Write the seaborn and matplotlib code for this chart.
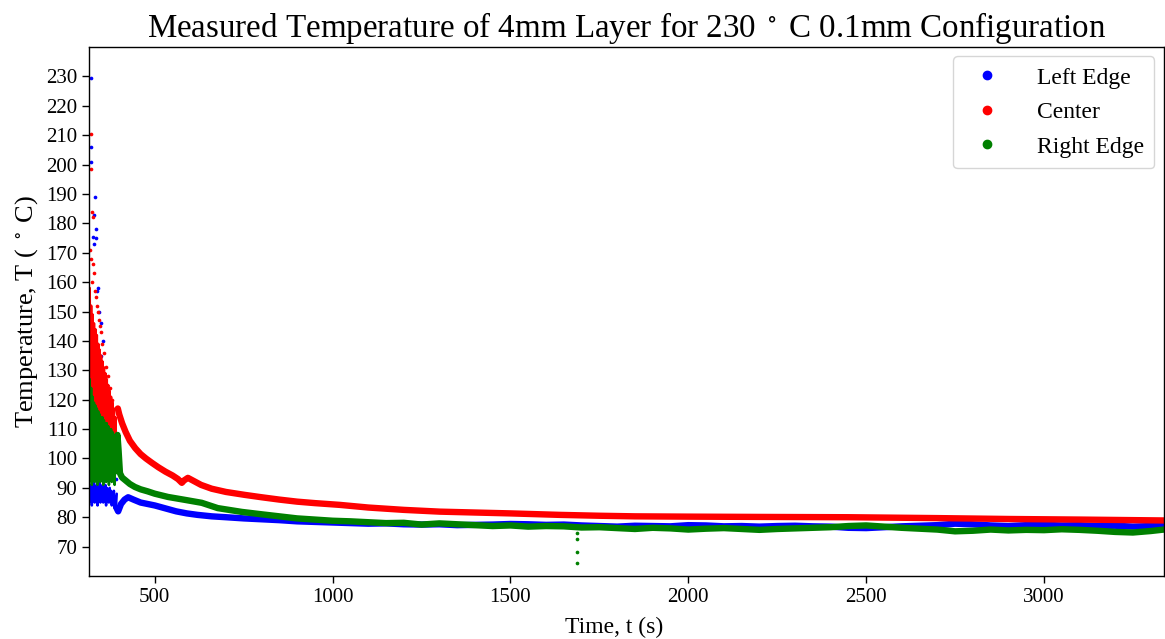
import matplotlib
matplotlib.use("Agg")
import matplotlib.pyplot as plt
from matplotlib.lines import Line2D
import seaborn as sns

# ---------------- data ----------------
# dense noisy start (t < ~395 s)
t_core = [315, 317, 319, 321, 323, 325, 327, 329, 331, 333, 335, 337, 339, 341,
          343, 345, 347, 349, 351, 353, 355, 357, 359, 361, 363, 365, 367, 369,
          371, 373, 375, 377, 379, 381, 383, 385, 387, 389, 391, 393]
T_core_left = [85, 91, 86, 90, 84, 91, 87, 92, 85, 90, 86, 91, 84, 91, 86, 92,
               85, 90, 87, 91, 85, 90, 86, 91, 84, 90, 86, 89, 85, 90, 86, 89,
               84, 88, 86, 89, 83, 87, 84, 88]
T_core_center = [108, 158, 110, 152, 107, 149, 112, 146, 106, 144, 111, 142, 107,
                 139, 110, 137, 106, 135, 109, 133, 105, 131, 108, 129, 106, 127,
                 109, 125, 105, 123, 107, 121, 104, 119, 106, 117, 103, 114, 104, 108]
T_core_right = [92, 127, 93, 124, 91, 121, 94, 119, 92, 118, 93, 117, 91, 116, 94,
                115, 92, 114, 93, 114, 91, 113, 94, 112, 92, 112, 93, 111, 91, 110,
                94, 110, 92, 109, 93, 108, 91, 106, 95, 108]

# isolated scattered readings
t_sparse_left = [320, 321, 322, 332, 330, 334, 336, 328, 326, 340, 337, 344, 350,
                 355, 348, 360, 365, 370, 386, 388, 390]
T_sparse_left = [229.5, 206, 201, 189, 183, 178, 175, 173, 175.5, 158, 157, 150,
                 146, 140, 135, 128, 120, 110, 95, 97, 93]
t_sparse_center = [320, 321, 323, 325, 319, 322, 327, 330, 324, 333, 336, 340,
                   338, 343, 348, 352, 346, 356, 362, 368, 374, 380]
T_sparse_center = [210.5, 198.5, 184, 182, 171, 168, 166, 163, 160, 157, 155, 150,
                   152, 147, 143, 139, 145, 136, 131, 128, 124, 120]
t_sparse_right = [318, 325, 330, 338, 345, 352, 360, 368, 375, 380,
                  1688, 1688, 1688, 1688]
T_sparse_right = [140, 135, 132, 128, 125, 122, 118, 115, 112, 110,
                  74.5, 72.5, 68.3, 64.3]

# main cooling trends
t_trend_left = [393, 397, 405, 415, 425, 440, 460, 480, 500, 530, 560, 590, 620,
                660, 700, 750, 800, 850, 900, 950, 1000, 1050, 1100, 1150, 1200,
                1250, 1300, 1350, 1400, 1450, 1500, 1550, 1600, 1650, 1700, 1750,
                1800, 1850, 1900, 1950, 2000, 2050, 2100, 2150, 2200, 2250, 2300,
                2350, 2400, 2450, 2500, 2550, 2600, 2650, 2700, 2750, 2800, 2850,
                2900, 2950, 3000, 3050, 3100, 3150, 3200, 3250, 3300, 3337]
T_trend_left = [83, 82, 84.5, 86, 86.8, 86, 85, 84.5, 84, 83, 82, 81.3, 80.8,
                80.3, 80, 79.6, 79.3, 79, 78.6, 78.4, 78.2, 78, 77.8, 77.9, 77.6,
                77.5, 77.6, 77.3, 77.4, 77.5, 77.7, 77.6, 77.4, 77.5, 77.2, 77.0,
                76.8, 77.1, 77.0, 76.9, 77.3, 77.2, 76.9, 77.0, 76.8, 77.0, 77.1,
                76.9, 76.8, 76.4, 76.3, 76.6, 76.9, 77.1, 77.3, 77.8, 77.6, 77.2,
                77.0, 77.3, 77.4, 77.2, 77.3, 77.0, 77.1, 76.8, 77.0, 77.0]

t_trend_center = [396, 400, 408, 418, 430, 445, 460, 475, 492, 510, 530, 550, 565,
                  576, 582, 593, 610, 630, 660, 700, 753, 800, 850, 900, 950, 1020,
                  1100, 1200, 1301, 1400, 1500, 1638, 1750, 1850, 2000, 2200, 2450,
                  2700, 2900, 3100, 3337]
T_trend_center = [117, 115, 112, 109, 106, 103.5, 101.5, 100, 98.5, 97, 95.5, 94.2,
                  93, 91.7, 92.5, 93.4, 92.3, 91, 89.7, 88.6, 87.6, 86.8, 86, 85.3,
                  84.8, 84.2, 83.3, 82.5, 81.9, 81.6, 81.3, 80.8, 80.5, 80.3, 80.2,
                  80.1, 80.0, 79.7, 79.4, 79.2, 78.9]

t_trend_right = [393, 395, 398, 402, 408, 416, 430, 444, 460, 480, 500, 537, 585,
                 632, 677, 745, 800, 850, 900, 950, 1000, 1050, 1100, 1150, 1200,
                 1250, 1300, 1350, 1400, 1450, 1500, 1550, 1600, 1650, 1700, 1750,
                 1800, 1850, 1900, 1950, 2000, 2050, 2100, 2150, 2200, 2250, 2300,
                 2350, 2400, 2450, 2500, 2550, 2600, 2650, 2700, 2750, 2800, 2850,
                 2900, 2950, 3000, 3050, 3100, 3150, 3200, 3250, 3300, 3337]
T_trend_right = [100, 108, 103, 95, 93.5, 92.7, 91.3, 90.3, 89.5, 88.8, 88, 86.9,
                 85.9, 84.9, 83.1, 81.8, 81, 80.3, 79.6, 79.2, 78.8, 78.6, 78.3,
                 78.0, 78.1, 77.5, 77.9, 77.6, 77.3, 77.0, 77.2, 76.8, 77.0, 76.9,
                 76.5, 76.6, 76.3, 76.0, 76.4, 76.2, 75.8, 76.1, 76.3, 76.0, 75.7,
                 76.0, 76.2, 76.4, 76.6, 77.0, 77.2, 76.8, 76.4, 76.1, 75.8, 75.2,
                 75.4, 75.8, 75.5, 75.7, 75.6, 75.9, 75.7, 75.4, 75.0, 74.8, 75.3,
                 75.8]

labels = ["Left Edge", "Center", "Right Edge"]
colors = ["blue", "red", "green"]
x_ticks = [500, 1000, 1500, 2000, 2500, 3000]
y_ticks = list(range(70, 240, 10))

# ---------------- style ----------------
sns.set_theme(style="ticks")
plt.rcParams["font.family"] = ["Liberation Serif", "DejaVu Serif"]
plt.rcParams["mathtext.fontset"] = "stix"
for k in ["text.color", "axes.labelcolor", "xtick.color", "ytick.color",
          "axes.edgecolor"]:
    plt.rcParams[k] = "black"

fig = plt.figure(figsize=(11.65, 6.39), dpi=100)
ax = fig.add_axes([0.0764, 0.0986, 0.9226, 0.8278])

cores = [T_core_left, T_core_center, T_core_right]
sparse = [(t_sparse_left, T_sparse_left), (t_sparse_center, T_sparse_center),
          (t_sparse_right, T_sparse_right)]
trends = [(t_trend_left, T_trend_left), (t_trend_center, T_trend_center),
          (t_trend_right, T_trend_right)]

for core, (ts, Ts), (tt, Tt), c in zip(cores, sparse, trends, colors):
    sns.lineplot(x=t_core, y=core, ax=ax, color=c, linewidth=1.8,
                 estimator=None, sort=False, legend=False)
    sns.lineplot(x=tt, y=Tt, ax=ax, color=c, linewidth=4.6,
                 estimator=None, sort=False, legend=False)
    sns.scatterplot(x=ts, y=Ts, ax=ax, color=c, s=7, linewidth=0,
                    legend=False)

ax.set_xlim(315, 3337)
ax.set_ylim(60, 240)
ax.set_xticks(x_ticks)
ax.set_yticks(y_ticks)
ax.tick_params(axis="both", labelsize=15, length=5, width=1, direction="out",
               colors="black")
for s in ax.spines.values():
    s.set_color("black")
    s.set_linewidth(1.0)

ax.set_title("Measured Temperature of 4mm Layer for 230 $^\\circ$ C 0.1mm Configuration",
             fontsize=23.8, pad=7, color="black")
ax.set_xlabel("Time, t (s)", fontsize=17)
ax.xaxis.set_label_coords(0.489, -0.078)
ax.set_ylabel("Temperature, T ( $^\\circ$ C)", fontsize=19, labelpad=4)

handles = [Line2D([], [], marker="o", linestyle="", color=c, markersize=6)
           for c in colors]
leg = ax.legend(handles, labels, loc="upper right", fontsize=17,
                labelspacing=0.55, handletextpad=1.1, borderpad=0.45,
                borderaxespad=0.4, frameon=True, fancybox=True)
leg.get_frame().set_edgecolor("#cccccc")

fig.savefig("out.png", dpi=100)
